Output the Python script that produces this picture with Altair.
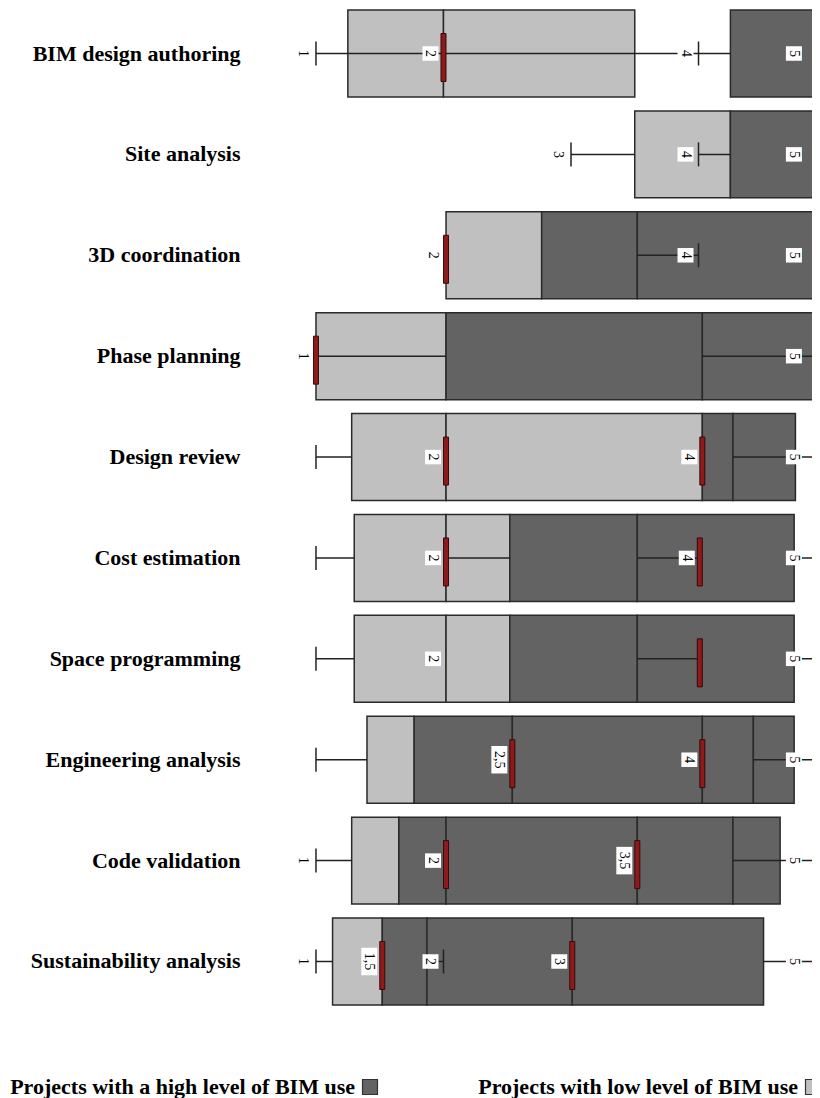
import altair as alt
import pandas as pd

rows = [
    "BIM design authoring",
    "Site analysis",
    "3D coordination",
    "Phase planning",
    "Design review",
    "Cost estimation",
    "Space programming",
    "Engineering analysis",
    "Code validation",
    "Sustainability analysis",
]

groups = ["Projects with a high level of BIM use", "Projects with low level of BIM use"]

# box edges (score scale 1-5), light = low BIM use, dark = high BIM use
low_edges = [
    [1.25, 2.0, 3.5],
    [3.5, 4.25],
    [2.02, 2.77],
    [1.0, 2.02],
    [1.28, 2.02, 4.03],
    [1.3, 2.02, 2.52],
    [1.3, 2.02, 2.52],
    [1.4, 1.77],
    [1.28, 1.65],
    [1.13, 1.52],
]
high_edges = [
    [4.25, 5.3],
    [4.25, 5.3],
    [2.77, 3.52, 5.3],
    [2.02, 4.03, 5.3],
    [4.03, 4.27, 4.76],
    [2.52, 3.52, 4.75],
    [2.52, 3.52, 4.75],
    [1.77, 2.54, 4.03, 4.43, 4.75],
    [1.65, 2.02, 3.52, 4.27, 4.64],
    [1.52, 1.87, 3.01, 4.51],
]
whiskers = [
    [(1.0, 4.25)],
    [(3.0, 3.5), (4.0, 4.25)],
    [(3.52, 4.0)],
    [(1.0, 2.02), (4.03, 5.0)],
    [(1.0, 1.28), (4.27, 5.0)],
    [(1.0, 1.3), (2.02, 2.52), (3.52, 4.01), (4.75, 5.0)],
    [(1.0, 1.3), (3.52, 4.01), (4.75, 5.0)],
    [(1.0, 1.4), (4.43, 5.0)],
    [(1.0, 1.28), (4.27, 5.0)],
    [(1.0, 1.13), (1.87, 2.0), (4.51, 5.0)],
]
whisker_caps = [[1.0, 4.0], [3.0, 4.0], [4.0], [], [1.0], [1.0], [1.0], [1.0], [1.0], [1.0, 2.0]]
medians = [[2.0], [], [2.02], [1.0], [2.02, 4.03], [2.02, 4.01], [4.01], [2.54, 4.03], [2.02, 3.52], [1.52, 3.01]]
value_labels = [
    [(1.0, "1"), (2.0, "2"), (4.0, "4"), (5.0, "5")],
    [(3.0, "3"), (4.0, "4"), (5.0, "5")],
    [(2.02, "2"), (4.0, "4"), (5.0, "5")],
    [(1.0, "1"), (5.0, "5")],
    [(2.02, "2"), (4.03, "4"), (5.0, "5")],
    [(2.02, "2"), (4.01, "4"), (5.0, "5")],
    [(2.02, "2"), (5.0, "5")],
    [(2.54, "2,5"), (4.03, "4"), (5.0, "5")],
    [(1.0, "1"), (2.02, "2"), (3.52, "3,5"), (5.0, "5")],
    [(1.0, "1"), (1.52, "1,5"), (2.0, "2"), (3.01, "3"), (5.0, "5")],
]

# ---- tables built from the arrays ----
seg = []
for r, edges in zip(rows, low_edges):
    for a, b in zip(edges[:-1], edges[1:]):
        seg.append({"row": r, "start": a, "end": b, "group": groups[1]})
for r, edges in zip(rows, high_edges):
    for a, b in zip(edges[:-1], edges[1:]):
        seg.append({"row": r, "start": a, "end": b, "group": groups[0]})
seg_df = pd.DataFrame(seg)

wh_df = pd.DataFrame([{"row": r, "start": a, "end": b} for r, ws in zip(rows, whiskers) for a, b in ws])
cap_df = pd.DataFrame([{"row": r, "v": v} for r, cs in zip(rows, whisker_caps) for v in cs])
med_df = pd.DataFrame([{"row": r, "v": v} for r, ms in zip(rows, medians) for v in ms])
lab_df = pd.DataFrame([{"row": r, "v": v, "label": t} for r, ls in zip(rows, value_labels) for v, t in ls])

DARK = "#636363"
LIGHT = "#c0c0c0"
EDGE = "#2a2a2a"
X_LO, X_HI = 0.561, 4.89
xscale = alt.Scale(domain=[X_LO, X_HI], nice=False, zero=False)


def Y():
    return alt.Y(
        "row:N",
        sort=rows,
        scale=alt.Scale(domain=rows, paddingInner=0.138, paddingOuter=0.02),
        axis=alt.Axis(
            title=None, ticks=False, domain=False, labelFont="Liberation Serif",
            labelFontSize=22, labelFontWeight="bold", labelColor="black",
            labelPadding=20, labelLimit=400,
        ),
    )


boxes = alt.Chart(seg_df).mark_bar(stroke=EDGE, strokeWidth=1.5, clip=True, opacity=1).encode(
    x=alt.X("start:Q", scale=xscale, axis=None),
    x2="end:Q",
    y=Y(),
    fill=alt.Fill(
        "group:N",
        scale=alt.Scale(domain=groups, range=[DARK, LIGHT]),
        legend=alt.Legend(
            orient="none", legendX=99, legendY=1068, direction="horizontal",
            title=None, symbolType="square", symbolSize=225,
            symbolStrokeColor="#333", symbolStrokeWidth=1.2, symbolOpacity=1,
            labelFont="Liberation Serif", labelFontSize=22, labelFontWeight="bold",
            labelColor="black", labelAlign="right", labelOffset={"expr": "-26"},
            symbolOffset=0, labelLimit=500, columnPadding=98,
        ),
    ),
)

lines = alt.Chart(wh_df).mark_rule(color="#222", strokeWidth=1.5, clip=True).encode(
    x=alt.X("start:Q", scale=xscale, axis=None), x2="end:Q", y=Y()
)

caps = alt.Chart(cap_df).mark_tick(color="#222", thickness=1.5, size=24, opacity=1, clip=True).encode(
    x=alt.X("v:Q", scale=xscale, axis=None), y=Y()
)

meds = alt.Chart(med_df).mark_tick(
    color="#8e1b1b", stroke="#3a0808", strokeWidth=1, thickness=5, size=48,
    yOffset=4, opacity=1, clip=True,
).encode(x=alt.X("v:Q", scale=xscale, axis=None), y=Y())

# labels at the cropped right edge are pulled just inside the plot
lab_base = alt.Chart(lab_df).transform_calculate(
    lx=f"min(datum.v, {X_HI - 0.04})",
    boxlen="8 + 6.5 * length(datum.label)",
)

lab_bg = lab_base.mark_tick(color="white", thickness=16, xOffset=-13, opacity=1).encode(
    x=alt.X("lx:Q", scale=xscale, axis=None), y=Y(),
    size=alt.Size("boxlen:Q", scale=None, legend=None),
)

labs = lab_base.mark_text(
    angle=90, font="Liberation Serif", fontSize=14, dy=13, align="center",
    baseline="middle", color="black",
).encode(x=alt.X("lx:Q", scale=xscale, axis=None), y=Y(), text="label:N")

chart = alt.layer(boxes, lines, caps, meds, lab_bg, labs).properties(
    width=552, height=999,
    autosize=alt.AutoSizeParams(type="none"),
    padding={"left": 252, "top": 0, "right": 0, "bottom": 91},
    background="white",
).configure_view(stroke=None)

chart.save("out.html", embed_options={"renderer": "svg", "actions": False})
